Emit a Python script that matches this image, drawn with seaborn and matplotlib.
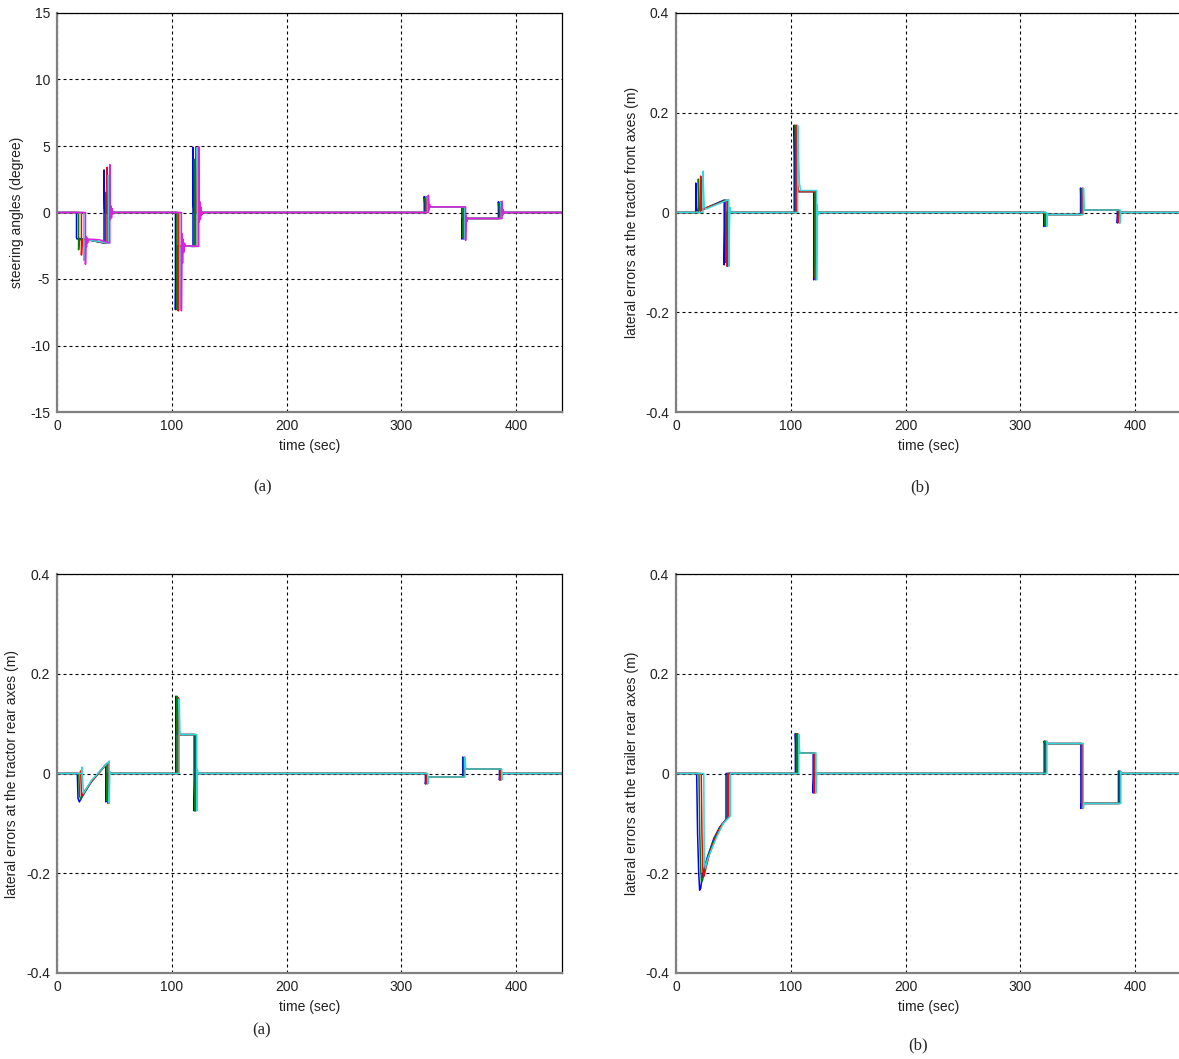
import matplotlib
matplotlib.use('Agg')
import matplotlib.pyplot as plt
import seaborn as sns
import pandas as pd

# --- data: time (sec) and value for every run, one panel at a time ---

# (a) steering angles (degree)
A_T_BLUE = [0, 17.0, 17.0, 17.6, 19, 30, 41.0, 41.0, 41.5, 42.2, 103.2, 103.2, 103.8, 105, 118.5, 118.5, 119.0, 119.8,
            320.0, 320.0, 320.6, 352.8, 352.8, 353.4, 384.6, 384.6, 385.2, 440]
A_V_BLUE = [0, 0, -1.9, -2.0, -1.95, -2.1, -2.3, 3.2, 0.3, 0, 0, -7.3, -2.9, -2.5, -2.55, 4.9, 0.4, 0,
            0, 1.2, 0.42, 0.42, -2.0, -0.45, -0.45, 0.8, 0.0, 0]
A_T_GREEN = [0, 18.8, 18.8, 19.5, 21, 30, 42.4, 42.4, 42.9, 43.6, 104.4, 104.4, 105, 106.2, 119.7, 119.7, 120.2, 121,
             320.9, 320.9, 321.5, 353.6, 353.6, 354.2, 385.4, 385.4, 386, 440]
A_V_GREEN = [0, 0, -2.8, -2.1, -2.0, -2.1, -2.3, 1.5, 0.2, 0, 0, -7.3, -3.0, -2.5, -2.55, 4.0, 0.3, 0,
             0, 1.1, 0.42, 0.42, -1.9, -0.45, -0.45, 0.7, 0.0, 0]
A_T_RED = [0, 21.3, 21.3, 21.9, 23.3, 30, 43.7, 43.7, 44.2, 44.9, 105.6, 105.6, 106.2, 107.4, 120.9, 120.9, 121.4, 122.2,
           321.8, 321.8, 322.4, 354.4, 354.4, 355, 386.2, 386.2, 386.8, 440]
A_V_RED = [0, 0, -3.2, -2.2, -2.0, -2.1, -2.3, 3.4, 0.3, 0, 0, -7.4, -3.1, -2.5, -2.55, 4.9, 0.4, 0,
           0, 1.2, 0.42, 0.42, -2.0, -0.45, -0.45, 0.8, 0.0, 0]
A_T_CYAN = [0, 23.4, 23.4, 24, 25.4, 30, 44.8, 44.8, 45.3, 46, 106.9, 106.9, 107.5, 108.7, 122.2, 122.2, 122.7, 123.5,
            322.7, 322.7, 323.3, 355.2, 355.2, 355.8, 387, 387, 387.6, 440]
A_V_CYAN = [0, 0, -3.6, -2.3, -2.0, -2.1, -2.3, 2.8, 0.3, 0, 0, -7.3, -3.2, -2.5, -2.55, 4.9, 0.4, 0,
            0, 1.2, 0.42, 0.42, -2.0, -0.45, -0.45, 0.8, 0.0, 0]
A_T_MAG = [0, 24.8, 24.8, 25.3, 25.7, 26.1, 26.6, 27.5, 37, 46.0, 46.0, 46.5, 47.0, 47.5, 48.0, 48.6, 49.5,
           108.4, 108.4, 108.9, 109.4, 109.9, 110.4, 111, 112, 123.5, 123.5, 124, 124.5, 125, 125.5, 126, 127,
           323.6, 323.6, 324.1, 324.6, 325.2, 356.0, 356.0, 356.5, 357.0, 357.6, 387.8, 387.8, 388.3, 388.8, 389.4, 440]
A_V_MAG = [0, 0, -3.9, -1.8, -2.6, -1.9, -2.3, -2.0, -2.05, -2.3, 3.6, -0.5, 0.5, -0.4, 0.3, -0.1, 0,
           0, -7.4, -1.6, -3.8, -2.0, -3.0, -2.3, -2.5, -2.55, 4.95, -0.7, 0.8, -0.5, 0.4, -0.2, 0,
           0, 1.3, 0.2, 0.6, 0.42, 0.42, -2.1, -0.2, -0.7, -0.45, -0.45, 0.85, -0.2, 0.2, 0, 0]

# (b) lateral errors at the tractor front axes (m)
B_T_BLUE = [0, 17.2, 17.2, 17.8, 18.6, 25, 42.0, 42.0, 42.6, 43.2, 103.0, 103.0, 103.8, 104.8, 120.0, 120.0, 120.6, 121.2,
            320.5, 320.5, 321.1, 352.5, 352.5, 353.1, 384.5, 384.5, 385.1, 440]
B_V_BLUE = [0, 0, 0.059, 0.01, 0.004, 0.008, 0.025, -0.105, -0.01, 0, 0, 0.175, 0.06, 0.042, 0.042, -0.135, -0.01, 0,
            0, -0.028, -0.004, -0.004, 0.049, 0.005, 0.005, -0.021, 0, 0]
B_T_GREEN = [0, 19.5, 19.5, 20.1, 20.9, 25, 43.3, 43.3, 43.9, 44.5, 104.0, 104.0, 104.8, 105.8, 120.8, 120.8, 121.4, 122.0,
             321.3, 321.3, 321.9, 353.3, 353.3, 353.9, 385.3, 385.3, 385.9, 440]
B_V_GREEN = [0, 0, 0.067, 0.01, 0.004, 0.008, 0.025, -0.10, -0.01, 0, 0, 0.175, 0.06, 0.042, 0.042, -0.13, -0.01, 0,
             0, -0.026, -0.004, -0.004, 0.048, 0.005, 0.005, -0.02, 0, 0]
B_T_RED = [0, 21.5, 21.5, 22.1, 22.9, 25, 44.6, 44.6, 45.2, 45.8, 105.0, 105.0, 105.8, 106.8, 121.6, 121.6, 122.2, 122.8,
           322.1, 322.1, 322.7, 354.1, 354.1, 354.7, 386.1, 386.1, 386.7, 440]
B_V_RED = [0, 0, 0.073, 0.012, 0.005, 0.008, 0.025, -0.108, -0.01, 0, 0, 0.175, 0.06, 0.042, 0.042, -0.135, -0.01, 0,
           0, -0.028, -0.004, -0.004, 0.049, 0.005, 0.005, -0.021, 0, 0]
B_T_CYAN = [0, 23.5, 23.5, 24.1, 24.6, 26, 46.0, 46.0, 46.5, 47.0, 47.6, 106.0, 106.0, 106.6, 107.5, 108.5, 122.5, 122.5,
            123.0, 123.5, 124.2, 323.0, 323.0, 323.6, 355.0, 355.0, 355.6, 387.0, 387.0, 387.6, 440]
B_V_CYAN = [0, 0, 0.083, 0.04, 0.012, 0.007, 0.026, -0.108, -0.03, 0.01, 0, 0, 0.175, 0.12, 0.06, 0.044, 0.044, -0.135,
            0.015, -0.005, 0, 0, -0.028, -0.004, -0.004, 0.049, 0.005, 0.005, -0.021, 0, 0]

# (c) lateral errors at the tractor rear axes (m)
C_T_BLUE = [0, 17.7, 18.3, 19.5, 21, 30, 42.5, 42.5, 43.1, 43.7, 103.5, 103.5, 104.1, 105, 119.5, 119.5, 120.1, 120.7,
            321.0, 321.0, 321.6, 353.5, 353.5, 354.1, 385.5, 385.5, 386.1, 440]
C_V_BLUE = [0, 0, -0.05, -0.057, -0.05, -0.016, 0.018, -0.057, -0.005, 0, 0, 0.155, 0.085, 0.078, 0.078, -0.075, -0.005, 0,
            0, -0.021, -0.007, -0.007, 0.033, 0.009, 0.009, -0.013, 0, 0]
C_T_GREEN = [0, 19.0, 19.6, 20.8, 22, 30, 43.5, 43.5, 44.1, 44.7, 104.5, 104.5, 105.1, 106, 120.3, 120.3, 120.9, 121.5,
             321.7, 321.7, 322.3, 354.2, 354.2, 354.8, 386.2, 386.2, 386.8, 440]
C_V_GREEN = [0, 0, -0.045, -0.052, -0.045, -0.016, 0.02, -0.055, -0.005, 0, 0, 0.155, 0.085, 0.078, 0.078, -0.075, -0.005, 0,
             0, -0.02, -0.007, -0.007, 0.032, 0.009, 0.009, -0.013, 0, 0]
C_T_RED = [0, 20.3, 20.6, 21.4, 22.6, 30, 44.5, 44.5, 45.1, 45.7, 105.5, 105.5, 106.1, 107, 121.0, 121.0, 121.6, 122.2,
           322.4, 322.4, 323.0, 354.9, 354.9, 355.5, 386.9, 386.9, 387.5, 440]
C_V_RED = [0, 0, 0.005, -0.045, -0.04, -0.016, 0.022, -0.06, -0.005, 0, 0, 0.152, 0.085, 0.078, 0.078, -0.075, -0.005, 0,
           0, -0.021, -0.007, -0.007, 0.033, 0.009, 0.009, -0.013, 0, 0]
C_T_CYAN = [0, 21.5, 21.9, 23.0, 30, 45.5, 45.5, 46.0, 46.5, 106.5, 106.5, 107.1, 108, 121.8, 121.8, 122.3, 122.9,
            323.0, 323.0, 323.6, 355.5, 355.5, 356.1, 387.5, 387.5, 388.1, 440]
C_V_CYAN = [0, 0, 0.013, -0.04, -0.014, 0.025, -0.06, 0.004, 0, 0, 0.15, 0.085, 0.078, 0.078, -0.075, 0.008, 0,
            0, -0.021, -0.007, -0.007, 0.033, 0.009, 0.009, -0.013, 0, 0]

# (d) lateral errors at the trailer rear axes (m)
D_T_BLUE = [0, 18.0, 18.8, 19.8, 20.6, 21.5, 23, 27, 33, 38, 43.6, 43.6, 104.0, 104.0, 104.6, 105.5, 119.5, 119.5, 120.1,
            120.7, 320.8, 320.8, 321.4, 352.8, 352.8, 353.4, 385.5, 385.5, 386.1, 440]
D_V_BLUE = [0, 0, -0.12, -0.2, -0.234, -0.23, -0.205, -0.17, -0.13, -0.108, -0.092, 0, 0, 0.08, 0.045, 0.041, 0.041,
            -0.039, -0.003, 0, 0, 0.065, 0.06, 0.06, -0.07, -0.06, -0.06, 0.005, 0, 0]
D_T_GREEN = [0, 20.0, 20.7, 21.5, 22.2, 23, 24.5, 28, 34, 39, 44.8, 44.8, 105.0, 105.0, 105.6, 106.5, 120.3, 120.3, 120.9,
             121.5, 321.6, 321.6, 322.2, 353.5, 353.5, 354.1, 386.2, 386.2, 386.8, 440]
D_V_GREEN = [0, 0, -0.12, -0.19, -0.217, -0.215, -0.2, -0.165, -0.127, -0.105, -0.09, 0, 0, 0.08, 0.045, 0.041, 0.041,
             -0.039, -0.003, 0, 0, 0.065, 0.06, 0.06, -0.07, -0.06, -0.06, 0.005, 0, 0]
D_T_RED = [0, 22.0, 22.6, 23.3, 23.9, 24.5, 26, 29, 35, 40, 46.0, 46.0, 106.0, 106.0, 106.6, 107.5, 121.1, 121.1, 121.7,
           122.3, 322.4, 322.4, 323.0, 354.2, 354.2, 354.8, 386.9, 386.9, 387.5, 440]
D_V_RED = [0, 0, -0.12, -0.19, -0.207, -0.205, -0.19, -0.163, -0.125, -0.102, -0.088, 0, 0, 0.08, 0.045, 0.041, 0.041,
           -0.039, -0.003, 0, 0, 0.065, 0.06, 0.06, -0.07, -0.06, -0.06, 0.005, 0, 0]
D_T_CYAN = [0, 24.2, 24.6, 25.5, 27.3, 29.6, 35.5, 41.2, 47.5, 47.5, 107.0, 107.0, 107.6, 108.5, 122.0, 122.0, 122.6,
            123.2, 323.2, 323.2, 323.8, 354.9, 354.9, 355.5, 387.6, 387.6, 388.2, 440]
D_V_CYAN = [0, 0, -0.17, -0.19, -0.173, -0.16, -0.127, -0.1, -0.085, 0, 0, 0.078, 0.045, 0.041, 0.041, -0.039, -0.003,
            0, 0, 0.065, 0.06, 0.06, -0.07, -0.06, -0.06, 0.005, 0, 0]

COLORS = {'b': '#0000ff', 'g': '#008000', 'r': '#ff0000', 'c': '#2ed8d8', 'm': '#e020e0'}

PANELS = [
    dict(series={'b': (A_T_BLUE, A_V_BLUE), 'g': (A_T_GREEN, A_V_GREEN), 'r': (A_T_RED, A_V_RED),
                 'c': (A_T_CYAN, A_V_CYAN), 'm': (A_T_MAG, A_V_MAG)},
         ylim=(-15, 15), yticks=[-15, -10, -5, 0, 5, 10, 15],
         ylabels=['-15', '-10', '-5', '0', '5', '10', '15'],
         ylabel='steering angles (degree)', rect=[57, 13, 505, 399], lab_x=-0.065),
    dict(series={'b': (B_T_BLUE, B_V_BLUE), 'g': (B_T_GREEN, B_V_GREEN), 'r': (B_T_RED, B_V_RED),
                 'c': (B_T_CYAN, B_V_CYAN)},
         ylim=(-0.4, 0.4), yticks=[-0.4, -0.2, 0, 0.2, 0.4], ylabels=['-0.4', '-0.2', '0', '0.2', '0.4'],
         ylabel='lateral errors at the tractor front axes (m)', rect=[676, 13, 505, 399], lab_x=-0.073),
    dict(series={'b': (C_T_BLUE, C_V_BLUE), 'g': (C_T_GREEN, C_V_GREEN), 'r': (C_T_RED, C_V_RED),
                 'c': (C_T_CYAN, C_V_CYAN)},
         ylim=(-0.4, 0.4), yticks=[-0.4, -0.2, 0, 0.2, 0.4], ylabels=['-0.4', '-0.2', '0', '0.2', '0.4'],
         ylabel='lateral errors at the tractor rear axes (m)', rect=[57, 574, 505, 399], lab_x=-0.075),
    dict(series={'b': (D_T_BLUE, D_V_BLUE), 'g': (D_T_GREEN, D_V_GREEN), 'r': (D_T_RED, D_V_RED),
                 'c': (D_T_CYAN, D_V_CYAN)},
         ylim=(-0.4, 0.4), yticks=[-0.4, -0.2, 0, 0.2, 0.4], ylabels=['-0.4', '-0.2', '0', '0.2', '0.4'],
         ylabel='lateral errors at the trailer rear axes (m)', rect=[676, 574, 505, 399], lab_x=-0.073),
]

# (caption, x px, y px)
CAPTIONS = [('(a)', 263, 487), ('(b)', 920, 487), ('(a)', 262, 1030), ('(b)', 918, 1045)]

W, H = 1179, 1059

sns.set_style('white')
plt.rcParams['font.family'] = ['Liberation Sans', 'DejaVu Sans']

fig = plt.figure(figsize=(W / 100, H / 100), dpi=100)

for p in PANELS:
    x0, y0, w, h = p['rect']
    ax = fig.add_axes([x0 / W, 1 - (y0 + h) / H, w / W, h / H])
    frames = []
    for name, (t, v) in p['series'].items():
        frames.append(pd.DataFrame({'time': t, 'value': v, 'run': name}))
    df = pd.concat(frames, ignore_index=True)
    order = list(p['series'].keys())
    sns.lineplot(data=df, x='time', y='value', hue='run', hue_order=order,
                 palette={k: COLORS[k] for k in order}, estimator=None, sort=False,
                 legend=False, linewidth=1.1, ax=ax)

    ax.set_xlim(0, 440)
    ax.set_ylim(*p['ylim'])
    ax.set_xticks([0, 100, 200, 300, 400], ['0', '100', '200', '300', '400'])
    ax.set_yticks(p['yticks'], p['ylabels'])
    ax.grid(True, color='black', linestyle=(0, (2.7, 2.7)), linewidth=0.8)
    ax.set_axisbelow(True)
    for side in ['left', 'bottom']:
        ax.spines[side].set_color('#808080')
        ax.spines[side].set_linewidth(1.6)
    for side in ['top', 'right']:
        ax.spines[side].set_color('black')
        ax.spines[side].set_linewidth(0.9)
    ax.tick_params(length=0, labelsize=10, colors='#202020', pad=5)
    ax.set_xlabel('time (sec)', fontsize=10, color='#202020')
    ax.set_ylabel(p['ylabel'], fontsize=10, color='#202020')
    ax.xaxis.set_label_coords(0.5, -0.068)
    ax.yaxis.set_label_coords(p['lab_x'], 0.5)

for text, cx, cy in CAPTIONS:
    fig.text(cx / W, 1 - cy / H, text, ha='center', va='center',
             family=['Liberation Serif', 'DejaVu Serif'], fontsize=12)

fig.savefig('out.png', dpi=100)
